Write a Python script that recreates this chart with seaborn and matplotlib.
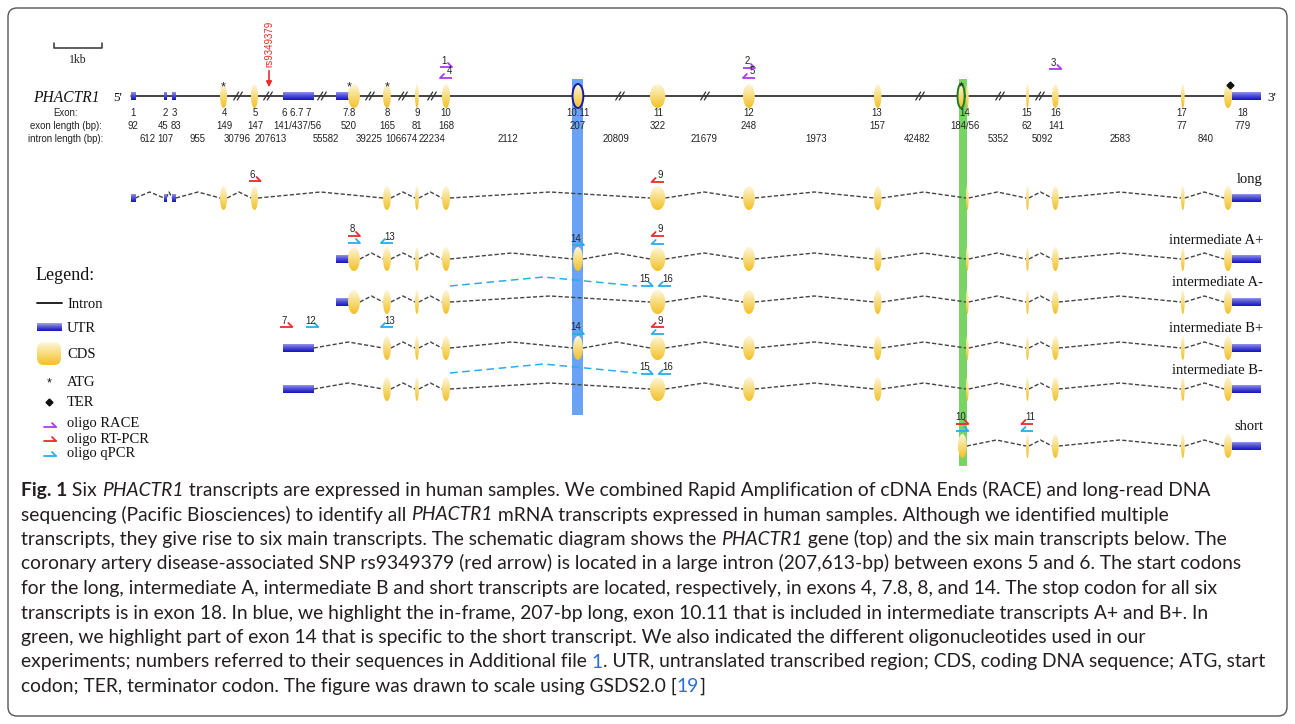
import re
import numpy as np
import pandas as pd
import seaborn as sns
import matplotlib.pyplot as plt
from matplotlib.patches import Ellipse, Rectangle, FancyBboxPatch
from matplotlib.colors import LinearSegmentedColormap
from matplotlib.font_manager import FontProperties


# ---- gene model (x in px of the drawing, lengths in bp) ----
BP_PX = 1 / 21  # drawing scale: px per bp (1kb bar ~ 48 px)

exon_labels = ["1", "2", "3", "4", "5", "6 6.7 7", "7.8", "8", "9", "10",
               "10.11", "11", "12", "13", "14", "15", "16", "17", "18"]
exon_label_x = [133, 165, 174, 224, 255, 297, 349, 387, 417, 446,
                578, 658, 749, 877, 965, 1027, 1056, 1182, 1243]
exon_lengths = ["92", "45", "83", "149", "147", "141/437/56", "520", "165", "81", "168",
                "207", "322", "248", "157", "184/56", "62", "141", "77", "779"]
exon_len_x = [133, 163, 176, 224, 255, 297, 349, 387, 417, 446,
              578, 658, 749, 877, 965, 1027, 1056, 1182, 1243]
intron_lengths = ["612", "107", "955", "30796", "207613", "55582", "39225", "106674", "22234",
                  "2112", "20809", "21679", "1973", "42482", "5352", "5092", "2583", "840"]
intron_x = [148, 165, 198, 237, 271, 326, 369, 401, 432,
            508, 616, 704, 816, 917, 998, 1042, 1120, 1206]

# drawn features: name, start, length in bp, utr / cds
feat_name = ["1", "2", "3", "4", "5", "6", "6.7", "7", "7.8u", "7.8", "8", "9", "10",
             "10.11", "11", "12", "13", "14", "14b", "14s", "15", "16", "17", "18", "18u"]
feat_start = [131, 164, 172, 220, 251, 283, 290, 311, 336, 348, 383, 415, 442,
              573, 650, 743, 874, 958, 966, 958, 1026, 1052, 1181, 1224, 1232]
feat_bp = [92, 45, 83, 149, 147, 141, 437, 56, 270, 250, 165, 81, 168,
           207, 322, 248, 157, 128, 56, 184, 62, 141, 77, 170, 609]
feat_kind = ["utr", "utr", "utr", "cds", "cds", "utr", "utr", "utr", "utr", "cds", "cds", "cds", "cds",
             "cds", "cds", "cds", "cds", "cds", "cds", "cds", "cds", "cds", "cds", "cds", "utr"]

gene_feats = [f for f in feat_name if f != "14s"]
break_x = [238, 268, 322, 370, 403, 432, 620, 705, 920, 1000, 1040]
atg_exons = ["4", "7.8", "8", "14"]

tr_names = ["long", "intermediate A+", "intermediate A-", "intermediate B+", "intermediate B-", "short"]
tr_exons = [
    ["1", "2", "3", "4", "5", "8", "9", "10", "11", "12", "13", "14b", "15", "16", "17", "18", "18u"],
    ["7.8u", "7.8", "8", "9", "10", "10.11", "11", "12", "13", "14b", "15", "16", "17", "18", "18u"],
    ["7.8u", "7.8", "8", "9", "10", "11", "12", "13", "14b", "15", "16", "17", "18", "18u"],
    ["6", "6.7", "7", "8", "9", "10", "10.11", "11", "12", "13", "14b", "15", "16", "17", "18", "18u"],
    ["6", "6.7", "7", "8", "9", "10", "11", "12", "13", "14b", "15", "16", "17", "18", "18u"],
    ["14s", "15", "16", "17", "18", "18u"],
]

# oligos: label, row, exon, direction, type, dx, dy above the row
oligo_label = ["1", "4", "2", "5", "3", "6", "9", "8", "", "13", "14", "9", "", "15", "16",
               "7", "12", "13", "14", "9", "", "15", "16", "10", "", "11", ""]
oligo_row = ["gene"] * 5 + ["long"] * 2 + ["intermediate A+"] * 6 + ["intermediate A-"] * 2 \
    + ["intermediate B+"] * 6 + ["intermediate B-"] * 2 + ["short"] * 4
oligo_exon = ["10", "10", "12", "12", "16", "5", "11", "7.8", "7.8", "8", "10.11", "11", "11", "11", "11",
              "6", "7", "8", "10.11", "11", "11", "11", "11", "14s", "14s", "15", "15"]
oligo_dir = ["r", "l", "r", "l", "r", "r", "l", "r", "r", "l", "r", "l", "l", "r", "l",
             "r", "r", "l", "r", "l", "l", "r", "l", "r", "r", "l", "l"]
oligo_type = ["RACE"] * 5 + ["RT-PCR"] * 3 + ["qPCR"] * 3 + ["RT-PCR", "qPCR", "qPCR", "qPCR"] \
    + ["RT-PCR", "qPCR", "qPCR", "qPCR", "RT-PCR", "qPCR", "qPCR", "qPCR", "RT-PCR", "qPCR", "RT-PCR", "qPCR"]
oligo_dx = [0] * 13 + [-11, 7] + [0] * 6 + [-11, 7] + [0] * 4
oligo_dy = [29, 18, 28, 18, 27, 17, 16, 23, 16, 16, 14, 23, 15, 16, 16,
            21, 21, 21, 14, 21, 14, 15, 15, 22, 15, 22, 15]

caption = [
    "**Fig. 1** Six *PHACTR1* transcripts are expressed in human samples. We combined Rapid Amplification of cDNA Ends (RACE) and long-read DNA",
    "sequencing (Pacific Biosciences) to identify all *PHACTR1* mRNA transcripts expressed in human samples. Although we identified multiple",
    "transcripts, they give rise to six main transcripts. The schematic diagram shows the *PHACTR1* gene (top) and the six main transcripts below. The",
    "coronary artery disease-associated SNP rs9349379 (red arrow) is located in a large intron (207,613-bp) between exons 5 and 6. The start codons",
    "for the long, intermediate A, intermediate B and short transcripts are located, respectively, in exons 4, 7.8, 8, and 14. The stop codon for all six",
    "transcripts is in exon 18. In blue, we highlight the in-frame, 207-bp long, exon 10.11 that is included in intermediate transcripts A+ and B+. In",
    "green, we highlight part of exon 14 that is specific to the short transcript. We also indicated the different oligonucleotides used in our",
    "experiments; numbers referred to their sequences in Additional file {1}. UTR, untranslated transcribed region; CDS, coding DNA sequence; ATG, start",
    "codon; TER, terminator codon. The figure was drawn to scale using GSDS2.0 [{19}]",
]

# ---- layout ----
row_y = {"gene": 96, "long": 198, "intermediate A+": 259, "intermediate A-": 302,
         "intermediate B+": 348, "intermediate B-": 389, "short": 446}
CDS_H, UTR_H = 24, 9
SMALL = 6.9
OLIGO_COL = {"RACE": "#a83cf0", "RT-PCR": "#ee2a2a", "qPCR": "#2aaee8"}
SANS = ["Liberation Sans", "DejaVu Sans"]
SERIF = ["Liberation Serif", "DejaVu Serif"]

sns.set_theme(style="white")
plt.rcParams["font.family"] = SANS

fig = plt.figure(figsize=(12.95, 7.24), dpi=100)
ax = fig.add_axes([0, 0, 1, 1])
ax.set_autoscale_on(False)
ax.set_xlim(0, 1295)
ax.set_ylim(724, 0)
ax.axis("off")

feat = pd.DataFrame({"name": feat_name, "x0": feat_start, "bp": feat_bp, "kind": feat_kind}).set_index("name")
feat["w"] = feat["bp"] * BP_PX
feat["x1"] = feat["x0"] + feat["w"]
feat["xc"] = feat["x0"] + feat["w"] / 2

cds_cmap = LinearSegmentedColormap.from_list("cds", ["#fdf6dc", "#f8dc7c", "#f2c12a"])
utr_cmap = LinearSegmentedColormap.from_list("utr", ["#a4a4ee", "#5252d6", "#1414c0"])
GRAD = np.linspace(0, 1, 40)[:, None]


def grad_patch(patch, x0, x1, y0, y1, cmap, z=3):
    patch.set_facecolor("none")
    patch.set_edgecolor("none")
    ax.add_patch(patch)
    im = ax.imshow(GRAD, cmap=cmap, extent=(x0, x1, y1, y0), aspect="auto",
                   interpolation="bilinear", zorder=z)
    im.set_clip_path(patch)


def draw_feature(name, y, edge=None):
    f = feat.loc[name]
    if f["kind"] == "cds":
        e = Ellipse((f["xc"], y), f["w"], CDS_H)
        grad_patch(e, f["x0"], f["x1"], y - CDS_H / 2, y + CDS_H / 2, cds_cmap)
        if edge:
            ax.add_patch(Ellipse((f["xc"], y), f["w"] + 1, CDS_H, fc="none", ec=edge, lw=1.4, zorder=4))
    else:
        r = Rectangle((f["x0"], y - UTR_H / 2), f["w"], UTR_H)
        grad_patch(r, f["x0"], f["x1"], y - UTR_H / 2, y + UTR_H / 2, utr_cmap)


def half_arrow(x, y, d, color, label):
    ax.plot([x - 6, x + 6], [y, y], color=color, lw=1.3, zorder=6, solid_capstyle="butt")
    if d == "r":
        ax.plot([x + 6, x + 2], [y, y - 4], color=color, lw=1.3, zorder=6)
        tx = x - 2
    else:
        ax.plot([x - 6, x - 2], [y, y - 4], color=color, lw=1.3, zorder=6)
        tx = x + 3
    if label:
        ax.text(tx, y - 1.5, label, fontsize=SMALL, ha="center", va="bottom", color="#222", zorder=7)


# outer frame
ax.add_patch(FancyBboxPatch((8, 8), 1279, 708, boxstyle="round,pad=0,rounding_size=9",
                            fc="none", ec="#555", lw=1.0, zorder=0))

# highlight bands (exon 10.11 and short-specific part of exon 14)
ax.add_patch(Rectangle((572, 79), 11, 336, fc="#6aa2f6", ec="none", zorder=1))
ax.add_patch(Rectangle((958.5, 79), 8.5, 387, fc="#79d466", ec="none", zorder=1))

# scale bar
kb = 1000 * BP_PX
ax.plot([54, 54, 54 + kb, 54 + kb], [43, 48, 48, 43], color="#333", lw=1.1)
ax.text(54 + kb / 2, 60, "1kb", family=SERIF, fontsize=8.5, ha="center", va="center", color="#222")

# gene line
gy = row_y["gene"]
ax.plot([feat.loc["1", "x0"], feat.loc["18", "x1"]], [gy, gy], color="#222", lw=1.2, zorder=2)
for bx in break_x:
    for off in (-1.8, 1.8):
        ax.plot([bx + off - 2.5, bx + off + 2.5], [gy + 4, gy - 4], color="#333", lw=0.9, zorder=2)
for name in gene_feats:
    edge = {"10.11": "#1a1aa0", "14": "#1f7d1f"}.get(name)
    draw_feature(name, gy, edge)
for name in atg_exons:
    ax.text(feat.loc[name, "xc"] - (5 if name == "7.8" else 0),
            gy - 9, "*", fontsize=9, ha="center", va="center", color="#222", zorder=7)
ax.plot(feat.loc["18", "xc"] + 2, gy - 11, marker="D", ms=3.5, color="#111", zorder=7)

ax.text(33, 98, "PHACTR1", family=SERIF, style="italic", fontsize=11.2, ha="left", va="center", color="#111")
ax.text(118, 98, "5'", family=SERIF, fontsize=9.5, ha="center", va="center", color="#111")
ax.text(1272, 98, "3'", family=SERIF, fontsize=9.5, ha="center", va="center", color="#111")

# SNP rs9349379
ax.text(269, 67, "rs9349379", rotation=90, fontsize=7, ha="center", va="bottom", color="#ee2a2a")
ax.annotate("", xy=(269, 90), xytext=(269, 68),
            arrowprops=dict(arrowstyle="-|>", color="#ee2a2a", lw=1.2, mutation_scale=8))

# exon annotation rows
for txt, yy in [("Exon:", 113), ("exon length (bp):", 126), ("intron length (bp):", 139)]:
    ax.text(66, yy, txt, fontsize=SMALL, ha="center", va="center", color="#222")
for lab, x in zip(exon_labels, exon_label_x):
    ax.text(x, 113, lab, fontsize=SMALL, ha="center", va="center", color="#222")
for lab, x in zip(exon_lengths, exon_len_x):
    ax.text(x, 126, lab, fontsize=SMALL, ha="center", va="center", color="#222")
for lab, x in zip(intron_lengths, intron_x):
    ax.text(x, 139, lab, fontsize=SMALL, ha="center", va="center", color="#222")

# transcripts: introns as dashed zigzags (seaborn lineplot), exons on top
rows = []
for tname, exons in zip(tr_names, tr_exons):
    y = row_y[tname]
    for a, b in zip(exons[:-1], exons[1:]):
        x0, x1 = feat.loc[a, "x1"], feat.loc[b, "x0"]
        if x1 - x0 > 1:
            uid = f"{tname}:{a}-{b}"
            rows += [(x0, y, uid), ((x0 + x1) / 2, y - 6, uid), (x1, y, uid)]
introns = pd.DataFrame(rows, columns=["x", "y", "unit"])
sns.lineplot(data=introns, x="x", y="y", units="unit", estimator=None, sort=False,
             color="#444", lw=1.0, linestyle=(0, (3, 1.6)), ax=ax, zorder=2)
ax.set_xlim(0, 1295)
ax.set_ylim(724, 0)

for tname, exons in zip(tr_names, tr_exons):
    y = row_y[tname]
    for name in exons:
        draw_feature(name, y)
    ax.text(1263, y - 19, tname, family=SERIF, fontsize=10.5, ha="right", va="center", color="#111")

# qPCR amplicon across the skipped exon 10.11
for tname in ["intermediate A-", "intermediate B-"]:
    y = row_y[tname]
    x0, x1 = feat.loc["10", "x1"], feat.loc["11", "x0"] - 13
    ax.plot([x0, (x0 + x1) / 2, x1], [y - 16, y - 25, y - 16], color="#2aaee8", lw=1.1,
            linestyle=(0, (5, 3)), zorder=5)

# oligos
for lab, row, ex, d, typ, dx, dy in zip(oligo_label, oligo_row, oligo_exon, oligo_dir,
                                         oligo_type, oligo_dx, oligo_dy):
    half_arrow(feat.loc[ex, "xc"] + dx, row_y[row] - dy, d, OLIGO_COL[typ], lab)

# legend
ax.text(36, 275, "Legend:", family=SERIF, fontsize=13, ha="left", va="center", color="#111")
ax.plot([37, 62], [303, 303], color="#111", lw=1.3)
grad_patch(Rectangle((37, 323), 25, 8), 37, 62, 323, 331, utr_cmap)
grad_patch(FancyBboxPatch((37, 342), 24, 23, boxstyle="round,pad=0,rounding_size=7"),
           37, 61, 342, 365, cds_cmap)
ax.text(49, 383, "*", fontsize=9, ha="center", va="center", color="#111")
ax.plot(49, 402, marker="D", ms=3.5, color="#111")
leg_items = [("Intron", 305), ("UTR", 328), ("CDS", 355), ("ATG", 382), ("TER", 402),
             ("oligo RACE", 424), ("oligo RT-PCR", 439), ("oligo qPCR", 454)]
for txt, yy in leg_items:
    ax.text(67, yy, txt, family=SERIF, fontsize=10.5, ha="left", va="center", color="#111")
for typ, yy in [("RACE", 427), ("RT-PCR", 441), ("qPCR", 456)]:
    ax.plot([44, 56], [yy, yy], color=OLIGO_COL[typ], lw=1.3)
    ax.plot([56, 52], [yy, yy - 4], color=OLIGO_COL[typ], lw=1.3)

# caption with mixed bold / italic / link runs
renderer = fig.canvas.get_renderer()
CAP_FONT = ["Lato", "DejaVu Sans"]
styles = {
    "n": dict(weight="normal", style="normal", color="#231f20"),
    "b": dict(weight="bold", style="normal", color="#231f20"),
    "i": dict(weight="normal", style="italic", color="#231f20"),
    "l": dict(weight="normal", style="normal", color="#2a6fd6"),
}


def runs(line):
    out = []
    for part in re.split(r"(\*\*.+?\*\*|\*.+?\*|\{.+?\})", line):
        if not part:
            continue
        if part.startswith("**"):
            out.append((part[2:-2], "b"))
        elif part.startswith("*"):
            out.append((part[1:-1], "i"))
        elif part.startswith("{"):
            out.append((part[1:-1], "l"))
        else:
            out.append((part, "n"))
    return out


def text_w(s, st, size):
    fp = FontProperties(family=CAP_FONT, size=size, weight=st["weight"], style=st["style"])
    w1 = renderer.get_text_width_height_descent(s + "|", fp, ismath=False)[0]
    w0 = renderer.get_text_width_height_descent("|", fp, ismath=False)[0]
    return w1 - w0


# size the caption so that the longest line fills the frame like the original
ref_line = caption[7]
base = sum(text_w(s, styles[k], 13) for s, k in runs(ref_line))
cap_size = 13 * 1241 / base

for i, line in enumerate(caption):
    x = 21
    yb = 496 + 24.5 * i
    for s, k in runs(line):
        st = styles[k]
        ax.text(x, yb, s, family=CAP_FONT, fontsize=cap_size, weight=st["weight"], style=st["style"],
                color=st["color"], ha="left", va="baseline")
        x += text_w(s, st, cap_size)

fig.savefig("out.png", dpi=100)
